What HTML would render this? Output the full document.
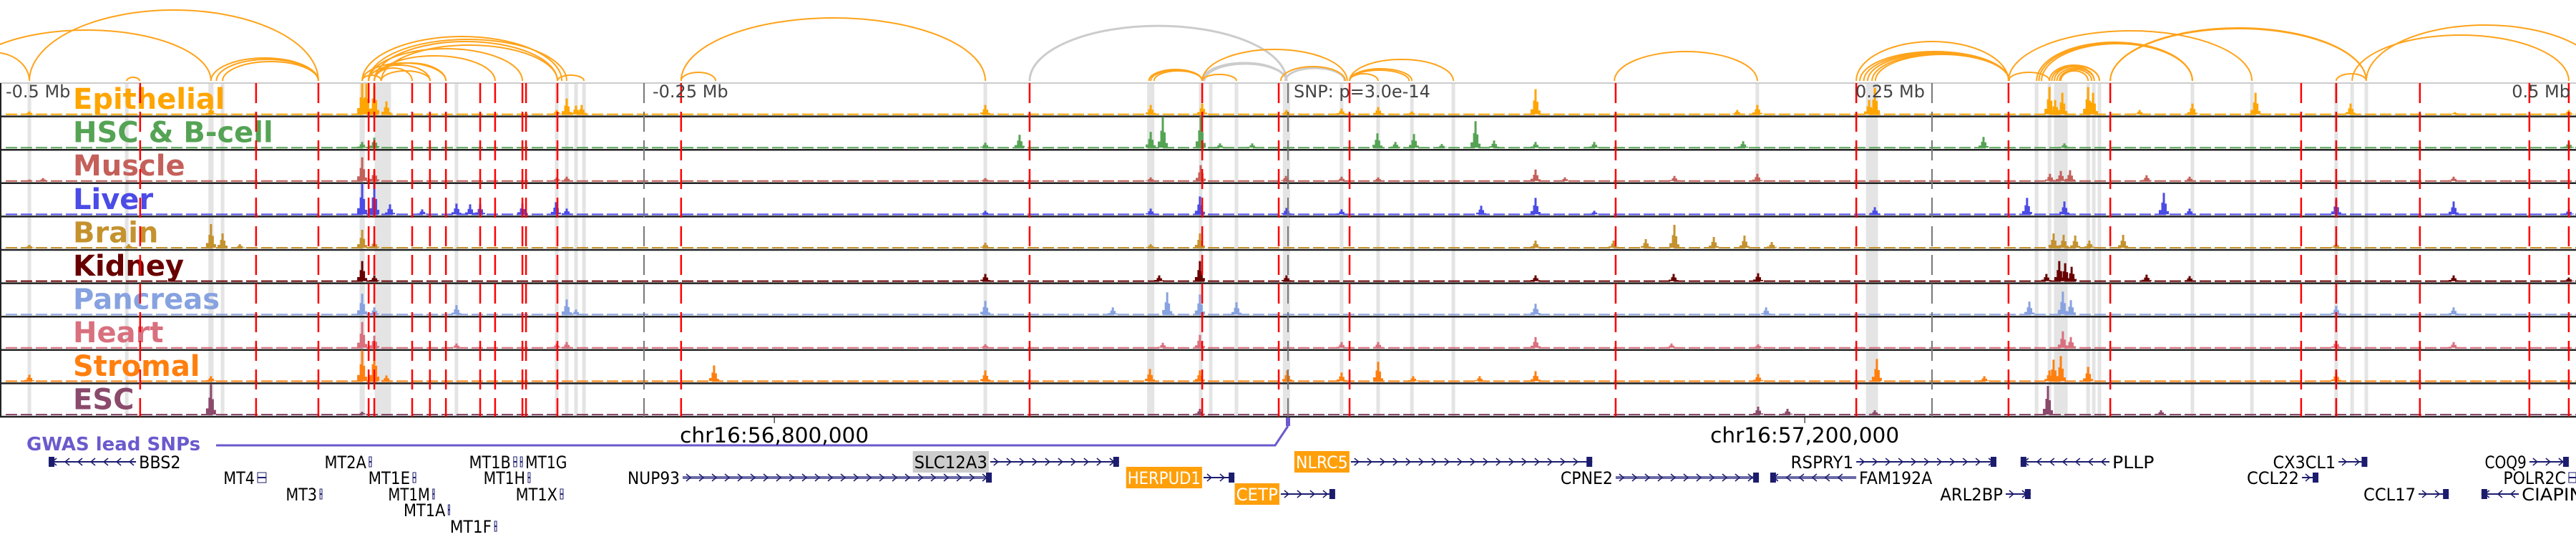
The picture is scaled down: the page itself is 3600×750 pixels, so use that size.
<!DOCTYPE html>
<html><head><meta charset="utf-8"><title>Genome browser</title>
<style>html,body{margin:0;padding:0;background:#fff;}svg{display:block;}</style></head>
<body>
<svg id="chart" xmlns="http://www.w3.org/2000/svg" width="3600" height="750" viewBox="0 0 3600 750" font-family="'DejaVu Sans','Liberation Sans',sans-serif">
<g id="bands"></g>
<g id="arcs"></g>
<g id="tracks"></g>
<g id="snps"></g>
<g id="axis"></g>
<g id="genes"></g>
</svg>
<script>
// ---- data (kb relative to lead SNP) ----
var trackNames = ["Epithelial","HSC & B-cell","Muscle","Liver","Brain","Kidney","Pancreas","Heart","Stromal","ESC"];
var trackColors = ["#ffa500","#55a355","#c4605a","#4b4be6","#c4922e","#680000","#87a2e0","#d9707e","#ff7f0e","#8b4a6b"];
var snpPos = [-445.6,-400.6,-376.4,-356.9,-354.7,-340,-333.1,-326.9,-313.6,-307.8,-297.2,-295.8,-283.6,-235.6,-100.3,-33.3,-3.6,23.9,127.2,220.6,279.7,319.2,393.3,406.9,439.4,481.9,497.2];
var bandPos = [-488.6,-450.8,-418.1,-413.6,-359.4,-351.4,-322.8,-283.9,-280,-276.4,-273.3,-117.5,-53.3,-33.9,-30,-20,-0.6,20.8,35,48.1,64.2,182.2,226.7,290.6,295.6,300,310.6,312.8,315,351.1,374.2,406.9,413.1,418.6];
var bandWidth = [1.4,1.4,2,1.4,2,6.4,1.4,1.4,1.4,1.4,1.4,1.4,2.8,1.4,1.4,1.4,2.8,1.4,1.4,1.4,1.4,1.4,4.7,1.4,1.4,5.3,1.4,1.4,1.4,1.4,1.4,1.4,1.4,1.4];
var arcStart = [-516.7,-488.6,-514.7,-450.8,-418.1,-416,-413.6,-359.4,-357,-354.7,-352,-356.9,-354.7,-359.4,-356.9,-354.7,-352,-359.4,-354.7,-283.6,-235.6,-235.6,-53.3,-52,-54,-33.3,-33.3,-2.8,23.9,23.9,23.9,23.9,126.7,220.6,222,223.5,225,226.7,228,279.7,279.7,290.6,291.5,292.5,295.6,296.5,297.5,298.5,299.5,300,319.2,319.2,406.9,413.1,418.6];
var arcEnd   = [-488.6,-376.4,-418.1,-445.8,-376.4,-376.4,-376.4,-281.9,-280,-283.6,-283.6,-297.2,-307.8,-326.9,-333.1,-340,-333,-352,-326.9,-273.3,-222.2,-117.5,-33.3,-33.3,-33.3,-20,23,22.2,35,48.1,47,64.2,182.2,279.7,280,280,280,280,280,295.6,374.2,351.1,351.1,351.1,315,315,313,313,312,310.6,418.6,418.6,418.6,497.2,511];
var arcHeight= [40,99,71,5,32,30,27,62,58,55,50,45,35,25,22,18,14,8,25,8,12,88,15,14,16,9,44,20,10,17,15,30,41,55,41,40,39,38,37,12,70,54,53,52,22,21,20,18,16,14,74,73,10,64,78];
var grayArcStart = [-100.3,-33.3,-32.5,-1];
var grayArcEnd   = [-0.6,-0.6,-0.6,22];
var grayArcHeight= [77,25,24,18];
var peakPos = [
 [-488.6,-418.1,-359.4,-357.8,-354.7,-350,-283.9,-280,-276.4,-274.2,-117.5,-53.3,-33.3,-0.6,20.8,35,48.1,96.1,174.4,182.2,225.6,227.8,295.6,297.8,300.6,310.6,312.5,330.6,351.1,375.6,412.5,453,497.2],
 [-359.4,-354.7,-117.5,-104.2,-53.3,-48.6,-33.9,-26.4,-13.9,34.7,41.7,48.9,59.7,72.8,80,96.1,118.9,176.7,270,301.4,497.2],
 [-488.6,-483.3,-359.4,-354.7,-283.9,-280,-117.5,-53.3,-33.9,-0.8,20.8,35,96.1,107.5,150,182.2,295.8,300,303.6,333.3,350,452.5],
 [-359.4,-354.7,-348.6,-336.1,-322.8,-317.5,-313.6,-297.2,-284.2,-280,-117.5,-53.3,-34.2,-0.6,20.8,75,96.1,118.9,227.8,286.9,301.4,340,350,406.9,452.5,497.2],
 [-488.6,-450,-418.1,-413.6,-406.9,-359.4,-354.7,-117.5,-53.3,-34.2,96.1,126.4,138.9,150,165.3,177.2,187.8,297.2,301.1,305.6,311.1,324.2,406.9],
 [-359.4,-354.7,-117.5,-50,-34.2,-0.6,96.1,149.7,182.5,294.4,299.4,301.7,304.2,333.3,350,452.5,497.2],
 [-359.4,-354.7,-322.8,-280,-276.4,-117.5,-68,-46.9,-34.2,-20,96.1,185.6,287.8,300.8,303.9,406.9,452.5],
 [-359.4,-354.7,-322.8,-283.9,-280,-117.5,-48.6,-34.2,20.8,35,96.1,148.9,182.5,300.8,303.9,406.9,452.5],
 [-488.6,-418.1,-359.4,-354.7,-350,-222.8,-117.5,-53.6,-34.2,-0.3,20.8,35,48.6,74.4,96.1,182.5,228.6,270.3,295.6,297.2,300,310.6,406.9],
 [-418.1,-359.4,-34.2,182.5,193.9,227.8,295,338.9]
];
var peakHeight = [
 [4,10,43,43,40,18,6,22,12,13,13,13,15,6,8,10,4,35,6,13,20,37,38,20,30,38,30,6,15,30,15,3,6],
 [8,14,7,18,22,43,44,6,6,20,8,19,5,37,10,8,8,9,15,6,8],
 [2,4,33,15,5,6,4,5,22,7,6,5,16,5,7,10,10,14,15,8,6,6],
 [43,43,14,7,15,14,14,15,17,8,5,8,25,9,7,12,23,5,10,23,18,30,8,20,18,7],
 [4,5,33,20,5,25,10,7,5,20,10,10,12,32,15,17,8,20,18,17,10,18,7],
 [28,8,10,8,28,8,8,10,11,10,28,25,20,9,7,8,5],
 [29,10,13,21,7,19,10,31,28,17,15,10,18,32,20,12,10],
 [36,17,6,6,8,5,7,18,8,8,15,6,5,23,15,10,8],
 [9,7,43,43,8,22,15,17,15,15,12,27,7,7,14,10,31,7,15,30,35,20,12],
 [43,4,8,11,8,6,40,6]
];
var axisTicks = [-250,0,250];
var axisLabels = ["-0.5 Mb","-0.25 Mb","0.25 Mb","0.5 Mb"];
var geneNames = ["BBS2","MT4","MT3","MT2A","MT1E","MT1M","MT1A","MT1F","MT1B","MT1H","MT1G","MT1X","NUP93","SLC12A3","HERPUD1","CETP","NLRC5","CPNE2","FAM192A","RSPRY1","ARL2BP","PLLP","CX3CL1","CCL22","CCL17","COQ9","POLR2C","CIAPIN1"];
var geneStart = [-481.1,-400,-375.8,-356.7,-339.7,-332,-326,-308,-300.6,-295,-298,-282.5,-235,-115.6,-32.8,-2.8,24.4,127.2,187.2,220.6,278.6,284.4,407.8,393.6,438.9,481.9,497.2,463.3];
var geneEnd   = [-447.2,-396.7,-375,-355.8,-338.6,-331.4,-325.5,-307.2,-299.4,-294.2,-297.2,-281.4,-115,-65.6,-20.8,18.3,118.1,182.8,220.6,275,288.3,318.9,419,400,450.6,497.2,500,477.8];
var geneStrand = [-1,1,1,1,1,1,1,1,1,1,-1,1,1,1,1,1,1,1,-1,1,1,-1,1,1,1,1,1,-1];
var geneRow = [0,1,2,0,1,2,3,4,0,1,0,2,1,0,1,2,0,1,1,0,2,0,0,1,2,0,1,2];
var geneHighlight = ["","","","","","","","","","","","","","#cccccc","#ff9f0a","#ff9f0a","#ff9f0a","","","","","","","","","","",""];
var geneThick = [0,0,0,0,0,0,0,0,0,0,0,0,1,0,0,0,0,1,1,0,0,0,0,0,0,0,0,0];
var chromLabels = ["chr16:56,800,000","chr16:57,200,000"];
var chromLabelPos = [-199.4,200.6];
var leadSnp = [0];

// ---- scales ----
var NS="http://www.w3.org/2000/svg";
function xs(kb){return 1800+kb*3.6;}
var TOP=116, TH=46.6, NT=trackNames.length;
function trackTop(i){return TOP+TH*i;}
function mk(tag,parent,attrs){var e=document.createElementNS(NS,tag);for(var k in attrs)e.setAttribute(k,attrs[k]);parent.appendChild(e);return e;}
var bottom = trackTop(NT);

// bands
var gB=document.getElementById('bands');
bandPos.forEach(function(b,i){
  var w=bandWidth[i]*3.6;
  var r=mk('rect',gB,{x:xs(b)-w/2,y:TOP,width:w,height:bottom-TOP,fill:'#e4e4e4'});
  
  
});

// arcs
var gA=document.getElementById('arcs');
var BASE=113;
function arcPath(s,e,h){var x1=xs(s),x2=xs(e),rx=(x2-x1)/2;return 'M'+x1+' '+BASE+' A'+rx+' '+h+' 0 0 1 '+x2+' '+BASE;}
grayArcStart.forEach(function(s,i){
  var p=mk('path',gA,{d:arcPath(s,grayArcEnd[i],grayArcHeight[i]),fill:'none',stroke:'#cccccc','stroke-width':3});
  
  
});
arcStart.forEach(function(s,i){
  var p=mk('path',gA,{d:arcPath(s,arcEnd[i],arcHeight[i]),fill:'none',stroke:'#ffa31a','stroke-width':2});
  
  
});

// tracks
var gT=document.getElementById('tracks');
mk('line',gT,{x1:0,y1:TOP,x2:3600,y2:TOP,stroke:'#cccccc','stroke-width':2});
for(var i=0;i<NT;i++){
  var g=mk('g',gT,{});
  
  
  var base=trackTop(i+1)-3;
  mk('line',g,{x1:8,y1:base,x2:3600,y2:base,stroke:trackColors[i],'stroke-width':2,'stroke-dasharray':'16 5'});
  peakPos[i].forEach(function(p,j){
    var h=peakHeight[i][j], x=xs(p);
    var d='M'+(x-7)+' '+base+' L'+(x-7)+' '+(base-h*0.2)+' L'+(x-3.5)+' '+(base-h*0.2)+' L'+(x-3.5)+' '+(base-h*0.55)+' L'+(x-1.5)+' '+(base-h*0.55)+' L'+(x-1.5)+' '+(base-h)+' L'+(x+1.5)+' '+(base-h)+' L'+(x+1.5)+' '+(base-h*0.5)+' L'+(x+4)+' '+(base-h*0.5)+' L'+(x+4)+' '+(base-h*0.15)+' L'+(x+7)+' '+(base-h*0.15)+' L'+(x+7)+' '+base+' Z';
    var pk=mk('path',g,{d:d,fill:trackColors[i]});
    
    
  });
  var lab=mk('text',g,{x:102,y:trackTop(i)+36,'font-size':40,'font-weight':'bold',fill:trackColors[i]});
  lab.textContent=trackNames[i];
  
  
  mk('line',g,{x1:0,y1:trackTop(i+1),x2:3600,y2:trackTop(i+1),stroke:'#222','stroke-width':2.5});
}
mk('line',gT,{x1:1,y1:TOP,x2:1,y2:bottom,stroke:'#222','stroke-width':2});

// snps & ticks
var gS=document.getElementById('snps');
axisTicks.forEach(function(t){
  var l=mk('line',gS,{x1:xs(t),y1:TOP,x2:xs(t),y2:bottom,stroke:'#777','stroke-width':2,'stroke-dasharray':'28 12'});
  
  
});
snpPos.forEach(function(s){
  var l=mk('line',gS,{x1:xs(s),y1:TOP,x2:xs(s),y2:bottom,stroke:'#ff0000','stroke-width':2.5,'stroke-dasharray':'28 12'});
  
  
});

// axis labels
var gX=document.getElementById('axis');
var axPos=[[8,'start'],[912,'start'],[2690,'end'],[3592,'end']];
axisLabels.forEach(function(t,i){
  var e=mk('text',gX,{x:axPos[i][0],y:136,'font-size':24,fill:'#444','text-anchor':axPos[i][1]});
  e.textContent=t;
  
  
});
var sl=mk('text',gX,{x:xs(leadSnp[0])+8,y:136,'font-size':24,fill:'#444'});
sl.textContent='SNP: p=3.0e-14';



// genes
var gG=document.getElementById('genes');
var gw=mk('text',gG,{x:37,y:629,'font-size':26,'font-weight':'bold',fill:'#6a5acd'});
gw.textContent='GWAS lead SNPs';


var gp=mk('path',gG,{d:'M302 622 L'+(xs(leadSnp[0])-18)+' 622 L'+xs(leadSnp[0])+' 595',fill:'none',stroke:'#6a5acd','stroke-width':3});


var gm=mk('rect',gG,{x:xs(leadSnp[0])-3,y:583,width:6,height:12,fill:'#6a5acd'});


chromLabels.forEach(function(t,i){
  mk('line',gG,{x1:xs(chromLabelPos[i]),y1:583,x2:xs(chromLabelPos[i]),y2:591,stroke:'#000','stroke-width':1});
  var e=mk('text',gG,{x:xs(chromLabelPos[i]),y:618,'font-size':29,'text-anchor':'middle',fill:'#000',textLength:264,lengthAdjust:'spacingAndGlyphs'});
  e.textContent=t;
  
  
});
var rowY=[645,667,690,712,735];
geneNames.forEach(function(n,i){
  var g=mk('g',gG,{});
  
  
  var x1=xs(geneStart[i]), x2=xs(geneEnd[i]), y=rowY[geneRow[i]];
  var col=geneThick[i]?'#6a6aa6':'#1c1c6e';
  mk('line',g,{x1:x1,y1:y,x2:x2,y2:y,stroke:col,'stroke-width':geneThick[i]?4:2});
  var len=x2-x1;
  if(len>20){
    for(var cx=x1+8;cx<x2-6;cx+=18){
      var d=geneStrand[i]>0?('M'+(cx-3)+' '+(y-5)+' L'+(cx+3)+' '+y+' L'+(cx-3)+' '+(y+5)):('M'+(cx+3)+' '+(y-5)+' L'+(cx-3)+' '+y+' L'+(cx+3)+' '+(y+5));
      mk('path',g,{d:d,fill:'none',stroke:'#1c1c6e','stroke-width':1.5});
    }
    var bx=geneStrand[i]>0?x2-8:x1;
    mk('rect',g,{x:bx,y:y-7,width:8,height:14,fill:'#1c1c6e'});
  } else {
    mk('rect',g,{x:x1,y:y-7,width:Math.max(2,len),height:14,fill:'none',stroke:'#1c1c6e','stroke-width':1});
  }
  var fs=24, tw=n.length*14.6;
  var lx=geneStrand[i]>0?x1-4-tw:x2+4;
  if(geneHighlight[i]){
    mk('rect',g,{x:lx-2,y:y-15,width:tw+4,height:30,fill:geneHighlight[i]});
  }
  var t=mk('text',g,{x:lx,y:y+9,'font-size':fs,fill:geneHighlight[i]&&geneHighlight[i]!=='#cccccc'?'#fff':'#000',textLength:tw,lengthAdjust:'spacingAndGlyphs'});
  t.textContent=n;
  
  
});
</script>
</body></html>
